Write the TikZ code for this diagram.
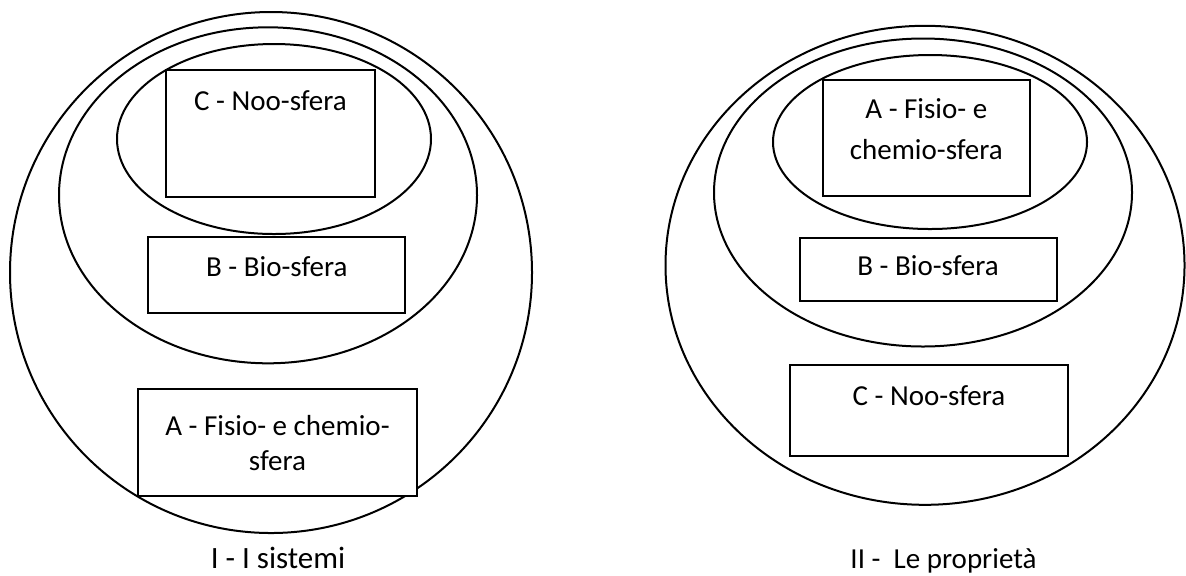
\documentclass[tikz,border=0pt]{standalone}
\usepackage{fontspec}
\setmainfont{Carlito}
\tikzset{
  sfbox/.style={draw,line width=1pt,fill=white,inner sep=0pt,outer sep=0pt},
  sftext/.style={inner sep=0pt,align=center,font=\fontsize{14.5}{17.5}\selectfont},
  sfring/.style={line width=1pt}
}
\begin{document}
\begin{tikzpicture}[x=.5pt,y=-.5pt]
\useasboundingbox (0,0) rectangle (1186,575);
% I - I sistemi
\draw[sfring] (271,272.5) ellipse [x radius=261,y radius=260.5];
\draw[sfring] (268,195.3) ellipse [x radius=209,y radius=168];
\draw[sfring] (274,139) ellipse [x radius=157,y radius=95];
\node[sfbox,minimum width=104.5pt,minimum height=63.5pt] (noo1) at (270.5,133.5) {};
\node[sftext,anchor=base] (noo1txt) at ([yshift=-20pt]noo1.north) {C - Noo-sfera};
\node[sfbox,minimum width=128.5pt,minimum height=38pt] (bio1) at (276.8,275.4) {};
\node[sftext,anchor=base] (bio1txt) at ([yshift=-19.35pt]bio1.north) {B - Bio-sfera};
\node[sfbox,minimum width=139.5pt,minimum height=53.5pt] (fis1) at (277.5,442.5) {};
% base = last line
\node[sftext,anchor=base] (fis1txt) at ([yshift=-40.5pt]fis1.north) {A - Fisio- e chemio-\\sfera};
\node[sftext,anchor=base,font=\fontsize{15.5}{18}\selectfont] (sis) at (278,568) {I - I sistemi};
% II - Le proprieta
\draw[sfring] (925,265.3) ellipse [x radius=259.5,y radius=239.5];
\draw[sfring] (923,192.5) ellipse [x radius=209,y radius=154];
\draw[sfring] (930,142) ellipse [x radius=157,y radius=87];
\node[sfbox,minimum width=103.65pt,minimum height=58pt] (fis2) at (926.35,138) {};
\node[sftext,anchor=base,font=\fontsize{14.5}{20.5}\selectfont] (fis2txt) at ([yshift=-39.65pt]fis2.north) {A - Fisio- e\\chemio-sfera};
\node[sfbox,minimum width=128.6pt,minimum height=31.9pt] (bio2) at (928.1,269.5) {};
\node[sftext,anchor=base] (bio2txt) at ([yshift=-19.1pt]bio2.north) {B - Bio-sfera};
\node[sfbox,minimum width=139.3pt,minimum height=45.5pt] (noo2) at (928.9,410.45) {};
\node[sftext,anchor=base] (noo2txt) at ([yshift=-20.05pt]noo2.north) {C - Noo-sfera};
\node[sftext,anchor=base] (prop) at (943.5,568) {II -\ \ Le proprietà};
\end{tikzpicture}
\end{document}
